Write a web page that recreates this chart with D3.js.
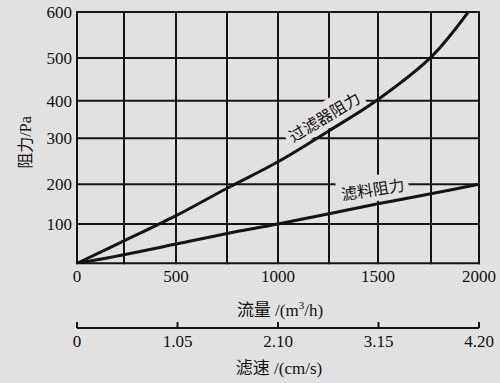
<!DOCTYPE html>
<html><head><meta charset="utf-8">
<script src="https://cdn.jsdelivr.net/npm/d3@7"></script>
<style>
html,body{margin:0;padding:0;background:#e1e1e1;}
svg{display:block;}
</style></head><body>
<script>
// ---- data ----
const flowTicks = [0, 500, 1000, 1500, 2000];
const flowGrid = [0, 250, 500, 750, 1000, 1250, 1500, 1750, 2000];
const speedTicks = [0, 1.05, 2.10, 3.15, 4.20];
const speedLabels = ["0", "1.05", "2.10", "3.15", "4.20"];
const resTicks = [100, 200, 300, 400, 500, 600];
const resGrid = [0, 100, 200, 300, 400, 500, 600];

const filterFlow = [0, 250, 500, 750, 1000, 1250, 1500, 1750, 1944];
const filterRes  = [0, 57, 121, 190, 249, 320, 403, 502, 600];
const mediaFlow  = [0, 250, 500, 750, 1000, 1250, 1500, 1750, 2000];
const mediaRes   = [0, 22, 49, 76, 100, 126, 151, 176, 200];

const filterName = "过滤器阻力";
const mediaName = "滤料阻力";
const xTitle = "流量 /(m";
const yTitle = "阻力/Pa";
const x2Title = "滤速 /(cm/s)";

// ---- layout (axis calibration of the scanned figure) ----
const W = 500, H = 383;
const xCal = [77, 124, 176, 227, 278, 329, 378, 431, 479];
const yCal = [263.3, 224, 184.3, 138.3, 100.7, 58, 12];
const bg = "#e1e1e1", ink = "#141414";
const serif = "'Liberation Serif','DejaVu Serif','Noto Sans CJK SC',serif";
const cjk = "'Noto Sans CJK SC','Liberation Serif',sans-serif";

const x = d3.scaleLinear().domain(flowGrid).range(xCal);
const y = d3.scaleLinear().domain(resGrid).range(yCal);
const x2 = d3.scaleLinear().domain([0, 4.2]).range([xCal[0], xCal[xCal.length-1]]);

const svg = d3.select("body").append("svg").attr("width", W).attr("height", H);
svg.append("rect").attr("width", W).attr("height", H).attr("fill", bg);

const pLeft = x(0), pRight = x(2000), pTop = y(600), pBottom = y(0);

// grid
const g = svg.append("g");
g.selectAll("line.v").data(flowGrid).join("line")
  .attr("x1", d => x(d)).attr("x2", d => x(d)).attr("y1", pTop - 1).attr("y2", pBottom + 1)
  .attr("stroke", ink).attr("stroke-width", 2);
g.selectAll("line.h").data(resGrid).join("line")
  .attr("y1", d => y(d)).attr("y2", d => y(d)).attr("x1", pLeft - 1).attr("x2", pRight + 1)
  .attr("stroke", ink).attr("stroke-width", 2);

const maskLayer = svg.append("g");
const curveLayer = svg.append("g");
const textLayer = svg.append("g");

// curve labels with background masks over the grid
function curveLabel(txt, fx, fr, ang, fs) {
  const tr = `translate(${x(fx)},${y(fr)}) rotate(${ang})`;
  const t = textLayer.append("text").attr("transform", tr)
    .attr("text-anchor", "middle").attr("dy", "0.36em")
    .attr("font-size", fs).attr("font-family", cjk).attr("fill", "#111").text(txt);
  const bb = t.node().getBBox();
  maskLayer.append("rect").attr("transform", tr)
    .attr("x", bb.x - 4).attr("y", bb.y - 1)
    .attr("width", bb.width + 8).attr("height", bb.height + 2).attr("fill", bg);
}
curveLabel(filterName, 1228, 356, -31, 16);
curveLabel(mediaName, 1474, 186, -9, 16);

// curves
svg.append("clipPath").attr("id", "c").append("rect")
  .attr("x", pLeft).attr("y", pTop).attr("width", pRight - pLeft).attr("height", pBottom - pTop);
const line = d3.line().x(d => x(d[0])).y(d => y(d[1])).curve(d3.curveCatmullRom.alpha(0.5));
curveLayer.append("path").datum(filterFlow.map((f, i) => [f, filterRes[i]]))
  .attr("d", line).attr("fill", "none").attr("stroke", ink).attr("stroke-width", 3)
  .attr("clip-path", "url(#c)");
curveLayer.append("path").datum(mediaFlow.map((f, i) => [f, mediaRes[i]]))
  .attr("d", line).attr("fill", "none").attr("stroke", ink).attr("stroke-width", 3)
  .attr("clip-path", "url(#c)");

const T = sel => sel.attr("font-family", serif).attr("fill", "#111");

// y tick labels
svg.selectAll("text.yt").data(resTicks).join("text").call(T)
  .attr("x", pLeft - 5).attr("y", d => y(d)).attr("dy", "0.35em")
  .attr("text-anchor", "end").attr("font-size", 17).text(d => d);

// x tick labels
svg.selectAll("text.xt").data(flowTicks).join("text").call(T)
  .attr("x", d => x(d)).attr("y", pBottom + 19)
  .attr("text-anchor", "middle").attr("font-size", 17).text(d => d);

// x title with superscript
const xt = svg.append("text").call(T).attr("x", x(1000) + 2).attr("y", pBottom + 53)
  .attr("text-anchor", "middle").attr("font-size", 17);
xt.append("tspan").text(xTitle);
xt.append("tspan").attr("font-size", 11).attr("dy", -7).text("3");
xt.append("tspan").attr("dy", 7).text("/h)");

// y title
svg.append("text").call(T).attr("transform", `translate(31,${(y(200)+y(400))/2}) rotate(-90)`)
  .attr("text-anchor", "middle").attr("font-size", 16).text(yTitle);

// second axis
const axY = 328;
svg.append("line").attr("x1", x2(0)).attr("x2", x2(4.2)).attr("y1", axY).attr("y2", axY)
  .attr("stroke", ink).attr("stroke-width", 2);
svg.selectAll("line.t2").data(speedTicks).join("line")
  .attr("x1", d => x2(d)).attr("x2", d => x2(d)).attr("y1", axY).attr("y2", axY - 6)
  .attr("stroke", ink).attr("stroke-width", 2);
svg.selectAll("text.t2").data(speedTicks).join("text").call(T)
  .attr("x", d => x2(d)).attr("y", axY + 19)
  .attr("text-anchor", "middle").attr("font-size", 17).text((d, i) => speedLabels[i]);
svg.append("text").call(T).attr("x", x2(2.1) + 1).attr("y", axY + 46)
  .attr("text-anchor", "middle").attr("font-size", 17).text(x2Title);
</script>
</body></html>
